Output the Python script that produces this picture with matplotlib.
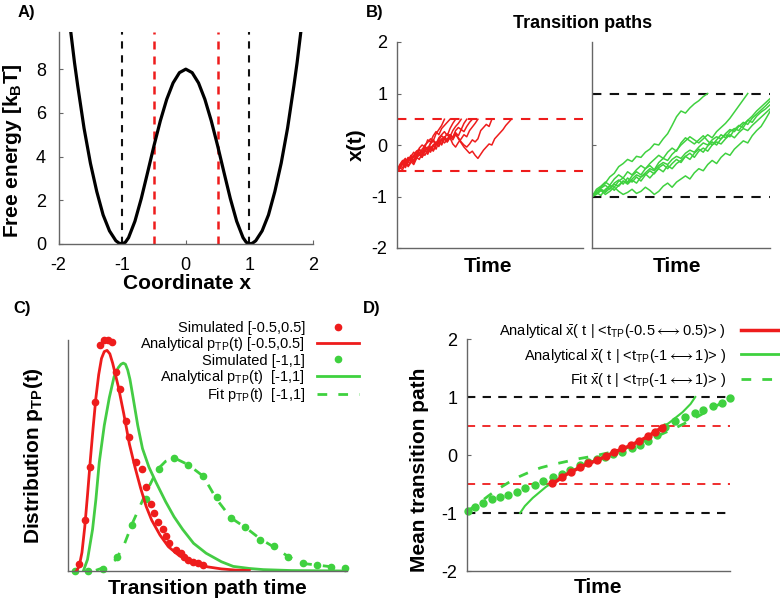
import numpy as np
import matplotlib
matplotlib.use("Agg")
import matplotlib.pyplot as plt
from matplotlib.lines import Line2D

plt.rcParams['font.family'] = ['Liberation Sans', 'DejaVu Sans']
plt.rcParams['mathtext.fontset'] = 'custom'
plt.rcParams['mathtext.rm'] = 'Liberation Sans'
plt.rcParams['mathtext.it'] = 'Liberation Sans:italic'
plt.rcParams['mathtext.bf'] = 'Liberation Sans:bold'
plt.rcParams['mathtext.fallback'] = 'stixsans'
plt.rcParams['axes.unicode_minus'] = False

RED = '#ee1c1c'
GREEN = '#3fd13f'
GREY = '#666666'

# ---- A) free energy profile ----
fe_x = [-1.85, -1.8, -1.75, -1.7, -1.6, -1.5, -1.4, -1.3, -1.2, -1.1, -1.05, -1.0,
        -0.95, -0.9, -0.8, -0.7, -0.6, -0.5, -0.4, -0.3, -0.2, -0.1, 0.0,
        0.1, 0.2, 0.3, 0.4, 0.5, 0.6, 0.7, 0.8, 0.9, 0.95,
        1.0, 1.05, 1.1, 1.2, 1.3, 1.4, 1.5, 1.6, 1.7, 1.75, 1.8, 1.85]
fe_y = [10.7, 9.5, 8.3, 7.25, 5.3, 3.7, 2.4, 1.33, 0.6, 0.15, 0.04, 0.0,
        0.08, 0.29, 1.04, 2.08, 3.28, 4.5, 5.64, 6.62, 7.37, 7.84, 8.0,
        7.84, 7.37, 6.62, 5.64, 4.5, 3.28, 2.08, 1.04, 0.29, 0.08,
        0.0, 0.04, 0.15, 0.6, 1.33, 2.4, 3.7, 5.3, 7.25, 8.3, 9.5, 10.7]
black_bounds = [-1, 1]
red_bounds = [-0.5, 0.5]

# ---- B) transition paths (time step between samples) ----
red_dt = 0.15
red_paths = [
    [-0.5, -0.42, -0.38, -0.28, -0.31, -0.2, -0.24, -0.12, -0.08, -0.14, 0.0, 0.05, 0.12, 0.08, 0.22, 0.3, 0.38, 0.5],
    [-0.5, -0.45, -0.33, -0.4, -0.28, -0.22, -0.3, -0.18, -0.1, -0.16, -0.05, -0.08, 0.04, 0.1, 0.02, 0.14, 0.2, 0.26, 0.18, 0.32, 0.42, 0.5],
    [-0.5, -0.4, -0.44, -0.35, -0.25, -0.32, -0.38, -0.26, -0.18, -0.24, -0.12, -0.06, -0.14, -0.02, 0.05, -0.03, 0.1, 0.16, 0.08, 0.2, 0.15, 0.28, 0.34, 0.3, 0.42, 0.5],
    [-0.5, -0.46, -0.36, -0.3, -0.42, -0.34, -0.2, -0.26, -0.16, -0.22, -0.1, -0.18, -0.06, 0.0, -0.08, 0.06, 0.12, 0.04, 0.1, 0.2, 0.14, 0.24, 0.18, 0.3, 0.26, 0.36, 0.44, 0.5],
    [-0.5, -0.38, -0.3, -0.36, -0.24, -0.3, -0.2, -0.12, -0.2, -0.08, -0.02, -0.1, 0.02, 0.08, 0.0, 0.1, 0.18, 0.12, 0.06, 0.14, 0.02, -0.04, 0.05, 0.12, 0.2, 0.16, 0.28, 0.35, 0.42, 0.5],
    [-0.5, -0.4, -0.32, -0.26, -0.34, -0.22, -0.14, -0.2, -0.06, 0.0, -0.04, 0.1, 0.06, 0.18, 0.26, 0.2, 0.32, 0.38, 0.44, 0.5],
    [-0.5, -0.44, -0.48, -0.36, -0.4, -0.3, -0.34, -0.24, -0.28, -0.16, -0.2, -0.1, -0.04, -0.12, 0.0, 0.08, 0.02, 0.14, 0.22, 0.16, 0.28, 0.36, 0.42, 0.5],
    [-0.5, -0.42, -0.36, -0.44, -0.32, -0.26, -0.34, -0.22, -0.16, -0.24, -0.1, -0.14, -0.04, -0.1, 0.02, 0.08, 0.0, 0.12, 0.06, 0.16, 0.1, 0.2, 0.14, 0.06, 0.0, -0.04, 0.02, 0.1, 0.06, 0.12, 0.28, 0.34, 0.4, 0.36, 0.5],
    [-0.5, -0.44, -0.36, -0.4, -0.3, -0.24, -0.3, -0.2, -0.14, -0.2, -0.1, -0.04, -0.1, 0.0, 0.06, 0.02, 0.1, 0.16, 0.1, 0.2, 0.14, 0.22, 0.12, 0.04, -0.04, -0.1, -0.16, -0.12, -0.2, -0.26, -0.18, -0.1, -0.04, 0.02, 0.0, 0.12, 0.18, 0.24, 0.3, 0.38, 0.44, 0.5],
]
green_dt = 0.25
green_paths = [
    [-1, -0.9, -0.82, -0.74, -0.62, -0.55, -0.42, -0.36, -0.28, -0.32, -0.22, -0.24, -0.14, -0.08, 0.02, 0.0, 0.12, 0.22, 0.38, 0.55, 0.66, 0.62, 0.72, 0.8, 0.86, 0.94, 1.0],
    [-1, -0.94, -0.86, -0.9, -0.78, -0.82, -0.7, -0.64, -0.72, -0.6, -0.52, -0.58, -0.46, -0.4, -0.48, -0.34, -0.26, -0.3, -0.18, -0.1, 0.0, 0.08, 0.16, 0.1, 0.04, 0.12, 0.2, 0.14, 0.26, 0.34, 0.42, 0.52, 0.64, 0.76, 0.88, 1.0],
    [-1, -0.96, -0.88, -0.92, -0.84, -0.76, -0.8, -0.7, -0.74, -0.66, -0.58, -0.62, -0.54, -0.46, -0.5, -0.4, -0.34, -0.38, -0.28, -0.22, -0.26, -0.16, -0.1, -0.14, -0.04, 0.04, 0.0, 0.1, 0.16, 0.12, 0.22, 0.3, 0.26, 0.36, 0.44, 0.4, 0.52, 0.6, 0.68, 0.76, 0.85],
    [-1, -0.9, -0.84, -0.78, -0.86, -0.74, -0.68, -0.76, -0.64, -0.72, -0.62, -0.7, -0.58, -0.5, -0.56, -0.44, -0.38, -0.46, -0.36, -0.28, -0.34, -0.22, -0.16, -0.24, -0.12, -0.06, -0.12, 0.0, 0.06, 0.02, 0.12, 0.2, 0.14, 0.24, 0.32, 0.28, 0.38, 0.46, 0.54, 0.62, 0.7],
    [-1, -0.95, -0.88, -0.96, -0.9, -0.82, -0.9, -0.96, -0.92, -0.86, -0.94, -0.9, -0.82, -0.88, -0.96, -0.9, -0.8, -0.74, -0.82, -0.72, -0.66, -0.6, -0.66, -0.54, -0.46, -0.5, -0.38, -0.3, -0.36, -0.24, -0.16, -0.2, -0.08, 0.0, 0.08, 0.04, 0.18, 0.28, 0.36, 0.5, 0.65],
    [-1, -0.86, -0.8, -0.72, -0.78, -0.66, -0.58, -0.64, -0.52, -0.58, -0.48, -0.4, -0.46, -0.36, -0.28, -0.2, -0.26, -0.14, -0.06, -0.12, 0.04, 0.14, 0.08, 0.02, 0.1, 0.18, 0.08, 0.0, 0.1, 0.2, 0.14, 0.26, 0.32, 0.28, 0.4, 0.48, 0.44, 0.56, 0.64, 0.7, 0.78],
    [-1, -0.92, -0.98, -0.86, -0.8, -0.88, -0.78, -0.7, -0.76, -0.68, -0.74, -0.62, -0.56, -0.64, -0.54, -0.46, -0.52, -0.4, -0.46, -0.36, -0.3, -0.22, -0.28, -0.16, -0.08, -0.14, -0.02, 0.06, 0.0, 0.12, 0.2, 0.16, 0.3, 0.38, 0.34, 0.48, 0.56, 0.66, 0.74, 0.82, 0.9],
]

# ---- C) transition path time distributions ----
simC_red_t = [0.40, 0.62, 0.79, 0.98, 1.15, 1.30, 1.44, 1.57, 1.72, 1.87, 2.08, 2.20, 2.44, 2.65, 2.80, 2.97,
              3.09, 3.21, 3.39, 3.51, 3.63, 3.87, 4.05, 4.17, 4.29, 4.47, 4.65, 4.83]
simC_red_p = [0.03, 0.22, 0.45, 0.73, 0.98, 1.00, 1.00, 0.99, 0.86, 0.79, 0.65, 0.58, 0.47, 0.44, 0.365, 0.29,
              0.25, 0.21, 0.18, 0.15, 0.12, 0.09, 0.077, 0.062, 0.048, 0.04, 0.033, 0.026]
anaC_red_t = [0.3, 0.4, 0.5, 0.6, 0.7, 0.8, 0.9, 1.0, 1.1, 1.2, 1.3, 1.4, 1.5, 1.6, 1.8, 2.0, 2.2, 2.4, 2.6, 2.8,
              3.0, 3.3, 3.6, 4.0, 4.5, 5.0, 5.5, 6.0, 6.5]
anaC_red_p = [0.0, 0.02, 0.08, 0.19, 0.33, 0.48, 0.62, 0.75, 0.85, 0.92, 0.95, 0.955, 0.94, 0.90, 0.80, 0.68, 0.55,
              0.45, 0.36, 0.28, 0.22, 0.155, 0.105, 0.065, 0.035, 0.018, 0.009, 0.004, 0.002]
simC_green_t = [0.25, 0.73, 1.27, 1.77, 2.28, 2.78, 3.27, 3.80, 4.31, 4.83, 5.33, 5.84, 6.34, 6.88, 7.38, 7.90,
                8.41, 8.91, 9.41, 9.93]
simC_green_p = [0.0, 0.0, 0.007, 0.06, 0.20, 0.31, 0.44, 0.49, 0.46, 0.41, 0.32, 0.23, 0.19, 0.134, 0.108, 0.059,
                0.033, 0.025, 0.019, 0.015]
anaC_green_t = [0.55, 0.7, 0.88, 1.0, 1.12, 1.3, 1.48, 1.65, 1.8, 1.9, 1.98, 2.06, 2.14, 2.22, 2.32, 2.5, 2.67,
                2.9, 3.15, 3.5, 3.8, 4.11, 4.5, 4.95, 5.5, 5.92, 6.5, 7.0, 8.0, 9.0, 10.0]
anaC_green_p = [0.0, 0.05, 0.18, 0.31, 0.47, 0.63, 0.75, 0.84, 0.88, 0.895, 0.90, 0.895, 0.87, 0.83, 0.76, 0.63,
                0.53, 0.45, 0.385, 0.30, 0.235, 0.18, 0.12, 0.077, 0.04, 0.02, 0.011, 0.006, 0.002, 0.001, 0.0]
fitC_green_t = [1.0, 1.4, 1.72, 2.0, 2.32, 2.8, 3.21, 3.5, 3.8, 4.31, 4.85, 5.33, 5.84, 6.4, 6.88, 7.36, 7.9,
                8.38, 8.91, 9.39, 9.93]
fitC_green_p = [0.003, 0.02, 0.05, 0.11, 0.21, 0.34, 0.44, 0.475, 0.49, 0.46, 0.41, 0.31, 0.23, 0.185, 0.14,
                0.105, 0.062, 0.033, 0.026, 0.019, 0.012]

# ---- D) mean transition paths ----
simD_red_t = [3.24, 3.60, 3.95, 4.30, 4.61, 4.95, 5.27, 5.60, 5.91, 6.24, 6.55, 6.87, 7.15, 7.40]
simD_red_x = [-0.49, -0.38, -0.29, -0.21, -0.14, -0.09, -0.02, 0.06, 0.12, 0.17, 0.24, 0.32, 0.40, 0.46]
anaD_red_t = [3.24, 3.8, 4.4, 5.0, 5.3, 5.6, 6.2, 6.8, 7.4, 7.5]
anaD_red_x = [-0.5, -0.33, -0.19, -0.08, -0.02, 0.05, 0.16, 0.30, 0.47, 0.5]
simD_green_t = [0.05, 0.30, 0.62, 0.94, 1.25, 1.57, 1.89, 2.21, 2.59, 2.90, 3.28, 3.60, 3.92, 4.30, 4.61, 4.95,
                5.25, 5.56, 5.88, 6.26, 6.58, 6.89, 7.21, 7.53, 7.91, 8.29, 8.67, 8.98, 9.37, 9.68, 10.0]
simD_green_x = [-0.96, -0.89, -0.82, -0.76, -0.72, -0.69, -0.63, -0.57, -0.52, -0.45, -0.38, -0.32, -0.25, -0.18,
                -0.12, -0.07, -0.03, 0.02, 0.06, 0.12, 0.17, 0.24, 0.34, 0.49, 0.59, 0.66, 0.73, 0.78, 0.84, 0.90, 0.98]
anaD_green_t = [2.02, 2.2, 2.5, 3.0, 3.5, 4.0, 4.5, 5.0, 5.35, 5.7, 6.2, 6.7, 7.2, 7.7, 8.2, 8.5, 8.68]
anaD_green_x = [-1.0, -0.88, -0.74, -0.55, -0.40, -0.27, -0.16, -0.06, 0.0, 0.06, 0.16, 0.27, 0.40, 0.56, 0.74, 0.88, 1.0]
fitD_green_t = [0.0, 0.4, 0.8, 1.2, 1.6, 2.0, 2.4, 2.8, 3.3, 3.8, 4.3, 4.8, 5.3, 5.8, 6.3, 6.8, 7.3, 7.8, 8.3,
                8.8, 9.3, 10.0]
fitD_green_x = [-0.97, -0.85, -0.71, -0.58, -0.47, -0.37, -0.29, -0.22, -0.16, -0.11, -0.06, -0.02, 0.03, 0.08,
                0.16, 0.25, 0.34, 0.44, 0.55, 0.67, 0.80, 0.98]


def style_axes(ax):
    for s in ['top', 'right']:
        ax.spines[s].set_visible(False)
    for s in ['left', 'bottom']:
        ax.spines[s].set_color(GREY)
        ax.spines[s].set_linewidth(1.0)
    ax.tick_params(direction='in', length=3, color=GREY, labelsize=13, pad=7)


def place_labels(ax, xl, yl):
    # centre the axis labels on the given axes-fraction points
    ax.xaxis.set_label_coords(*xl)
    ax.xaxis.label.set_va('center')
    ax.yaxis.set_label_coords(*yl)
    ax.yaxis.label.set_va('center')


W, H = 780.0, 602.0


def rect(x0, x1, ytop, ybot):
    return [x0 / W, 1 - ybot / H, (x1 - x0) / W, (ybot - ytop) / H]


fig = plt.figure(figsize=(7.8, 6.02), dpi=100)

# A
axA = fig.add_axes(rect(58.6, 313, 32, 244))
style_axes(axA)
for xb in black_bounds:
    axA.plot([xb, xb], [0, 9.7], color='#111111', lw=1.5, ls=(0, (3.5, 3.2)))
for xb in red_bounds:
    axA.plot([xb, xb], [0, 9.7], color=RED, lw=1.8, ls=(0, (3.2, 2.8)))
axA.plot(fe_x, fe_y, color='black', lw=2.3)
axA.set_xlim(-2, 2)
axA.set_ylim(0, 9.7)
axA.set_xticks([-2, -1, 0, 1, 2])
axA.set_yticks([0, 2, 4, 6, 8])
axA.tick_params(pad=9)
axA.set_xlabel('Coordinate x', fontsize=15, fontweight='bold')
axA.set_ylabel('Free energy [k$_\\mathbf{B}$T]', fontsize=15, fontweight='bold')
place_labels(axA, (0.505, -0.184), (-0.181, 0.44))

# B left
axB1 = fig.add_axes(rect(397, 583, 42, 248))
style_axes(axB1)
for yb in red_bounds:
    axB1.plot([0, 10], [yb, yb], color=RED, lw=1.5, ls=(0, (4.5, 4)))
for p in red_paths:
    t = np.arange(len(p)) * red_dt
    axB1.plot(t, p, color=RED, lw=1.1)
axB1.set_xlim(0, 10)
axB1.set_ylim(-2, 2)
axB1.set_xticks([])
axB1.set_yticks([-2, -1, 0, 1, 2])
axB1.set_ylabel('x(t)', fontsize=15, fontweight='bold')
axB1.set_xlabel('Time', fontsize=15, fontweight='bold')
place_labels(axB1, (0.487, -0.092), (-0.22, 0.5))

# B right
axB2 = fig.add_axes(rect(592, 770, 42, 248))
style_axes(axB2)
for yb in black_bounds:
    axB2.plot([0, 10], [yb, yb], color='#111111', lw=1.5, ls=(0, (4.5, 4)))
for p in green_paths:
    t = np.arange(len(p)) * green_dt
    axB2.plot(t, p, color=GREEN, lw=1.1)
axB2.set_xlim(0, 10)
axB2.set_ylim(-2, 2)
axB2.set_xticks([])
axB2.set_yticks([-1, 0, 1])
axB2.set_yticklabels([])
axB2.set_xlabel('Time', fontsize=15, fontweight='bold')
axB2.xaxis.set_label_coords(0.48, -0.092)
axB2.xaxis.label.set_va('center')
fig.text(583 / W, 1 - 23 / H, 'Transition paths', fontsize=13, fontweight='bold', ha='center', va='center')

# C
axC = fig.add_axes(rect(68, 347, 340, 571))
style_axes(axC)
axC.plot(fitC_green_t, fitC_green_p, color=GREEN, lw=2, ls=(0, (3.5, 4)))
axC.plot(simC_green_t, simC_green_p, 'o', color=GREEN, ms=4.5, clip_on=False)
axC.plot(anaC_green_t, anaC_green_p, color='#44cc44', lw=2)
axC.plot(anaC_red_t, anaC_red_p, color=RED, lw=2)
axC.plot(simC_red_t, simC_red_p, 'o', color=RED, ms=4.5, clip_on=False)
axC.set_xlim(0, 10)
axC.set_ylim(0, 1.0)
axC.set_xticks([])
axC.set_yticks([])
axC.set_xlabel('Transition path time', fontsize=15, fontweight='bold')
axC.set_ylabel('Distribution p$_\\mathbf{TP}$(t)', fontsize=15, fontweight='bold')
place_labels(axC, (0.498, -0.074), (-0.125, 0.5))

hC = [Line2D([], [], color=RED, marker='o', ls='none', ms=4.5),
      Line2D([], [], color=RED, lw=2),
      Line2D([], [], color=GREEN, marker='o', ls='none', ms=4.5),
      Line2D([], [], color=GREEN, lw=2),
      Line2D([], [], color=GREEN, lw=2, ls=(0, (3.5, 4)))]
lC = ['Simulated [-0.5,0.5]',
      'Analytical p$_\\mathregular{TP}$(t) [-0.5,0.5]',
      'Simulated [-1,1]',
      'Analytical p$_\\mathregular{TP}$(t)  [-1,1]',
      'Fit p$_\\mathregular{TP}$(t)  [-1,1]']
fig.legend(hC, lC, loc='upper right', bbox_to_anchor=(359 / W, 1 - 321 / H), frameon=False,
           markerfirst=False, fontsize=10.5, handlelength=2.9, handletextpad=0.8,
           labelspacing=0.02, borderpad=0, borderaxespad=0, numpoints=1)

# D
axD = fig.add_axes(rect(467, 730, 339, 571))
style_axes(axD)
for yb in black_bounds:
    axD.plot([0, 10], [yb, yb], color='#111111', lw=1.5, ls=(0, (4, 3.5)))
for yb in red_bounds:
    axD.plot([0, 10], [yb, yb], color=RED, lw=1.3, ls=(0, (4.5, 4)))
axD.plot(fitD_green_t, fitD_green_x, color=GREEN, lw=2, ls=(0, (3.5, 4)))
axD.plot(anaD_green_t, anaD_green_x, color=GREEN, lw=1.5)
axD.plot(simD_green_t, simD_green_x, 'o', color=GREEN, ms=5, clip_on=False)
axD.plot(anaD_red_t, anaD_red_x, color=RED, lw=2.5)
axD.plot(simD_red_t, simD_red_x, 'o', color=RED, ms=5)
axD.set_xlim(0, 10)
axD.set_ylim(-2, 2)
axD.set_xticks([])
axD.set_yticks([-2, -1, 0, 1, 2])
axD.set_xlabel('Time', fontsize=15, fontweight='bold')
axD.set_ylabel('Mean transition path', fontsize=15, fontweight='bold')
place_labels(axD, (0.5, -0.073), (-0.179, 0.435))

hD = [Line2D([], [], color=RED, lw=2.5),
      Line2D([], [], color=GREEN, lw=2),
      Line2D([], [], color=GREEN, lw=2, ls=(0, (3.5, 4)))]
lD = ['Analytical $\\bar{\\mathregular{x}}$( t | <t$_\\mathregular{TP}$(-0.5${\\longleftrightarrow}$0.5)> )',
      'Analytical $\\bar{\\mathregular{x}}$( t | <t$_\\mathregular{TP}$(-1${\\longleftrightarrow}$1)> )',
      'Fit $\\bar{\\mathregular{x}}$( t | <t$_\\mathregular{TP}$(-1${\\longleftrightarrow}$1)> )']
fig.legend(hD, lD, loc='upper right', bbox_to_anchor=(783 / W, 1 - 322 / H), frameon=False,
           markerfirst=False, fontsize=10.5, handlelength=2.9, handletextpad=1.0,
           labelspacing=0.45, borderpad=0, borderaxespad=0)

# panel letters
for lab, px, py in [('A)', 18, 12), ('B)', 366, 12), ('C)', 13, 309), ('D)', 363, 309)]:
    fig.text(px / W, 1 - py / H, lab, fontsize=12, fontweight='bold', ha='left', va='center')

fig.savefig('out.png', dpi=100)
